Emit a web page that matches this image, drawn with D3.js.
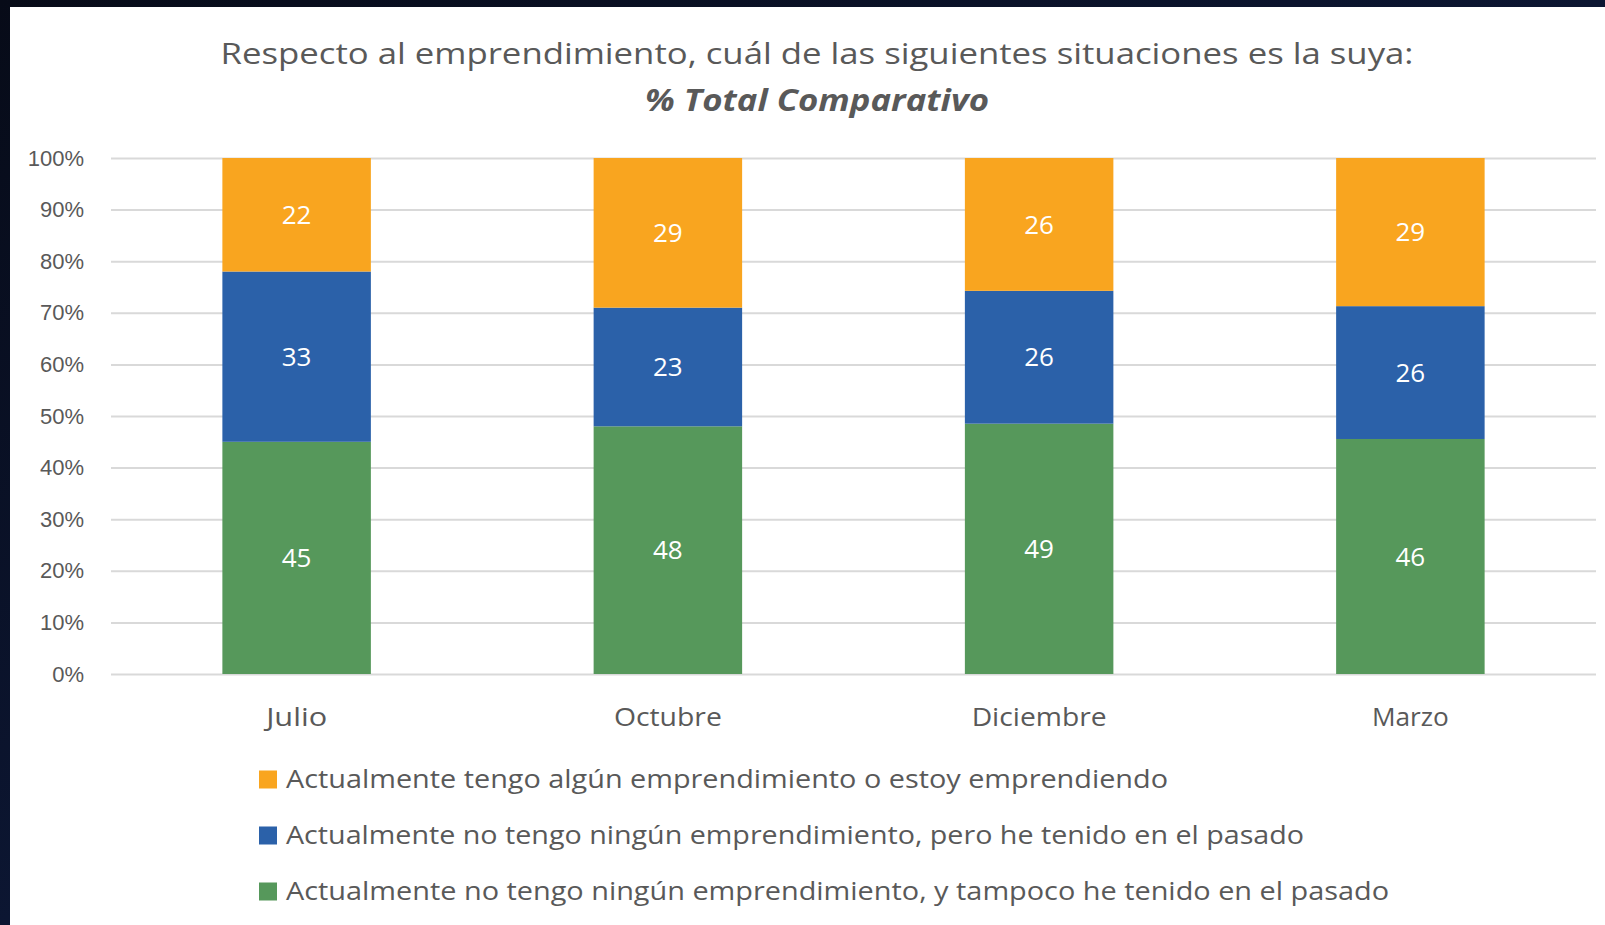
<!DOCTYPE html>
<html>
<head>
<meta charset="utf-8">
<script src="https://cdn.jsdelivr.net/npm/d3@7"></script>
<style>
  html, body { margin: 0; padding: 0; background: #0a1128; }
  svg { display: block; font-family: "Open Sans", "Lato", sans-serif; }
</style>
</head>
<body>
<svg id="chart" width="1605" height="925"></svg>
<script>
const months = ['Julio', 'Octubre', 'Diciembre', 'Marzo'];
const seriesNames = [
    'Actualmente no tengo ningún emprendimiento, y tampoco he tenido en el pasado',
    'Actualmente no tengo ningún emprendimiento, pero he tenido en el pasado',
    'Actualmente tengo algún emprendimiento o estoy emprendiendo'
];
const nunca = [45, 48, 49, 46];
const antes = [33, 23, 26, 26];
const ahora = [22, 29, 26, 29];
const yTicks = [0, 0.1, 0.2, 0.3, 0.4, 0.5, 0.6, 0.7, 0.8, 0.9, 1];
const colors = ['#56985B', '#2B61A9', '#F9A51F'];

const svg = d3.select('#chart');

// dark slide background + white card
const defs = svg.append('defs');
const grad = defs.append('linearGradient').attr('id', 'bg').attr('x1', 0).attr('y1', 0).attr('x2', 1).attr('y2', 1);
grad.append('stop').attr('offset', 0).attr('stop-color', '#070b18');
grad.append('stop').attr('offset', 0.5).attr('stop-color', '#0c1632');
grad.append('stop').attr('offset', 1).attr('stop-color', '#0a1026');
svg.append('rect').attr('width', 1605).attr('height', 925).attr('fill', 'url(#bg)');
svg.append('rect').attr('x', 10).attr('y', 7).attr('width', 1595).attr('height', 918).attr('fill', '#fff');

const table = months.map((m, i) => ({month: m, s0: nunca[i], s1: antes[i], s2: ahora[i]}));
const keys = ['s0', 's1', 's2'];
const stack = d3.stack().keys(keys).offset(d3.stackOffsetExpand)(table);

const plot = {left: 111, right: 1596, top: 158, bottom: 674};

var scale =
{
    x: d3.scaleBand().domain(months).range([plot.left, plot.right]).paddingInner(0.6).paddingOuter(0.3),
    y: d3.scaleLinear().domain([0, 1]).range([plot.bottom, plot.top])
};

// gridlines and y labels
const yAxis = svg.append('g')
    .attr('transform', `translate(${plot.left},0)`)
    .call(d3.axisLeft(scale.y).tickValues(yTicks).tickFormat(d3.format('.0%'))
        .tickSize(-(plot.right - plot.left)).tickPadding(27));
yAxis.select('.domain').remove();
yAxis.selectAll('.tick line').attr('stroke', '#d9d9d9').attr('stroke-width', 2);
yAxis.selectAll('.tick text').attr('fill', '#595959').attr('font-size', 22);

// bars
const layers = svg.append('g').selectAll('g').data(stack).join('g')
    .attr('fill', (d, i) => colors[i]);

layers.selectAll('rect').data(d => d).join('rect')
    .attr('x', d => scale.x(d.data.month))
    .attr('width', scale.x.bandwidth())
    .attr('y', d => scale.y(d[1]))
    .attr('height', d => scale.y(d[0]) - scale.y(d[1]));

// value labels
stack.forEach((layer) => {
    svg.append('g').selectAll('text').data(layer).join('text')
        .attr('x', d => scale.x(d.data.month) + scale.x.bandwidth() / 2)
        .attr('y', d => (scale.y(d[0]) + scale.y(d[1])) / 2)
        .attr('dy', '0.35em')
        .attr('text-anchor', 'middle')
        .attr('fill', '#fff')
        .attr('font-size', 26)
        .text(d => d.data[layer.key]);
});

// category labels (Poppins-like width)
const monthWidths = [61, 108, 135, 77];
svg.append('g').selectAll('text').data(months).join('text')
    .attr('x', d => scale.x(d) + scale.x.bandwidth() / 2)
    .attr('y', plot.bottom + 43)
    .attr('dy', '0.35em')
    .attr('text-anchor', 'middle')
    .attr('fill', '#595959')
    .attr('font-size', 26)
    .attr('textLength', (d, i) => monthWidths[i]).attr('lengthAdjust', 'spacingAndGlyphs')
    .text(d => d);

// titles
svg.append('text')
    .attr('x', 817).attr('y', 53).attr('dy', '0.35em')
    .attr('text-anchor', 'middle').attr('fill', '#595959').attr('font-size', 30)
    .attr('textLength', 1193).attr('lengthAdjust', 'spacingAndGlyphs')
    .text('Respecto al emprendimiento, cuál de las siguientes situaciones es la suya:');
svg.append('text')
    .attr('x', 817).attr('y', 100).attr('dy', '0.35em')
    .attr('text-anchor', 'middle').attr('fill', '#595959').attr('font-size', 30)
    .attr('font-weight', 'bold').attr('font-style', 'italic')
    .attr('textLength', 344).attr('lengthAdjust', 'spacingAndGlyphs')
    .text('% Total Comparativo');

// legend, top row is the last series
const legendItems = [2, 1, 0];
const legendWidths = [882, 1018, 1103];
const legend = svg.append('g').selectAll('g').data(legendItems).join('g')
    .attr('transform', (d, i) => `translate(259,${779.5 + i * 56})`);
legend.append('rect')
    .attr('y', -9).attr('width', 18).attr('height', 18)
    .attr('fill', d => colors[d]);
legend.append('text')
    .attr('x', 27).attr('dy', '0.35em')
    .attr('fill', '#595959').attr('font-size', 25)
    .attr('textLength', (d, i) => legendWidths[i]).attr('lengthAdjust', 'spacingAndGlyphs')
    .text(d => seriesNames[d]);
</script>
</body>
</html>
